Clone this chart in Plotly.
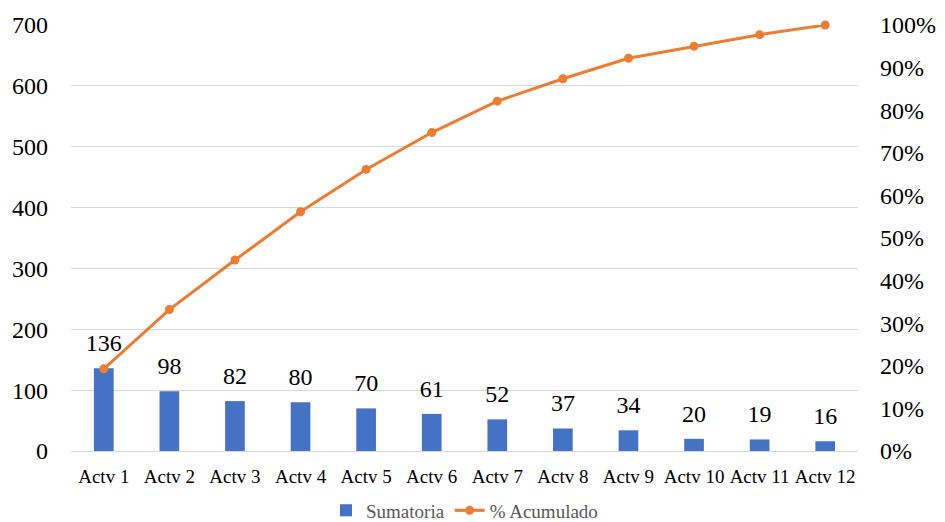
import numpy as np
import plotly.graph_objects as go

# Activity totals (Pareto)
categories = ["Actv 1", "Actv 2", "Actv 3", "Actv 4", "Actv 5", "Actv 6",
              "Actv 7", "Actv 8", "Actv 9", "Actv 10", "Actv 11", "Actv 12"]
sumatoria = [136, 98, 82, 80, 70, 61, 52, 37, 34, 20, 19, 16]

# Cumulative share of the total
cum = np.cumsum(sumatoria)
acumulado = (cum / cum[-1]).tolist()

left_ticks = [0, 100, 200, 300, 400, 500, 600, 700]
right_ticks = [i / 10 for i in range(11)]

BLUE = "#4472C4"
ORANGE = "#ED7D31"
FONT = "'Times New Roman', 'Liberation Serif', 'DejaVu Serif', serif"

fig = go.Figure()
fig.add_trace(go.Bar(
    x=categories, y=sumatoria, name="Sumatoria",
    marker=dict(color=BLUE, line=dict(width=0)),
    width=0.3,
))
# value labels above each bar
fig.add_trace(go.Scatter(
    x=categories, y=sumatoria, mode="markers+text",
    text=[str(v) for v in sumatoria], textposition="top center",
    textfont=dict(family=FONT, size=24, color="#000000"),
    marker=dict(size=16, opacity=0),
    showlegend=False, hoverinfo="skip", cliponaxis=False,
))
fig.add_trace(go.Scatter(
    x=categories, y=acumulado, name="% Acumulado", yaxis="y2",
    mode="lines+markers",
    line=dict(color=ORANGE, width=3),
    marker=dict(color=ORANGE, size=9),
    cliponaxis=False,
))

fig.update_layout(
    width=945, height=522,
    margin=dict(l=71, r=87, t=25, b=71, autoexpand=False),
    paper_bgcolor="white", plot_bgcolor="white",
    font=dict(family=FONT, color="#000000"),
    showlegend=True,
    legend=dict(orientation="h", x=0.5, xanchor="center", y=-0.095, yanchor="top",
                font=dict(family=FONT, size=19, color="#595959"),
                traceorder="normal"),
    xaxis=dict(
        range=[-0.5, len(categories) - 0.5],
        showgrid=False, showline=False, zeroline=False, ticks="",
        ticklabelstandoff=12, automargin=False,
        tickfont=dict(family=FONT, size=19, color="#000000"),
    ),
    yaxis=dict(
        range=[0, 700], tickvals=left_ticks,
        showgrid=True, gridcolor="#D9D9D9", gridwidth=1.3,
        zeroline=True, zerolinecolor="#D9D9D9", zerolinewidth=1.3,
        showline=False, ticks="", ticklabelstandoff=22, automargin=False,
        tickfont=dict(family=FONT, size=24, color="#000000"),
    ),
    yaxis2=dict(
        range=[0, 1], tickvals=right_ticks, tickformat=".0%",
        overlaying="y", side="right",
        showgrid=False, zeroline=False, showline=False, ticks="",
        ticklabelstandoff=21, automargin=False,
        tickfont=dict(family=FONT, size=24, color="#000000"),
    ),
)

fig.write_html("out.html")
